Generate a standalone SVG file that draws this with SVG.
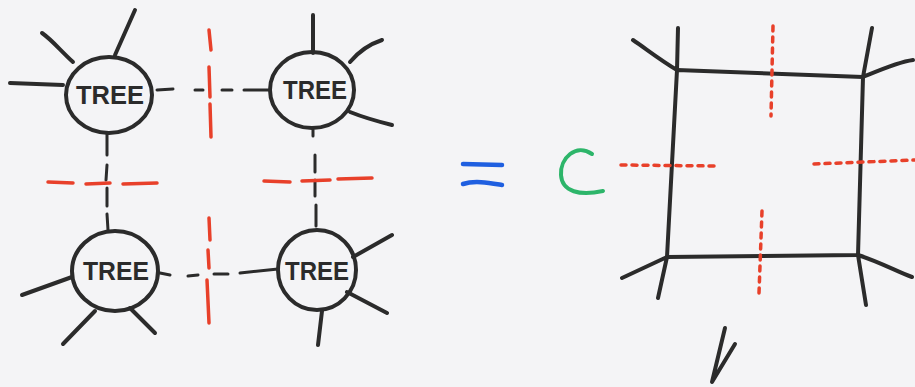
<svg xmlns="http://www.w3.org/2000/svg" width="915" height="387" viewBox="0 0 915 387">
<style>
.k{fill:none;stroke:#2b2b2b;stroke-width:4;stroke-linecap:round;stroke-linejoin:round}
.kd{fill:none;stroke:#2b2b2b;stroke-width:3;stroke-linecap:round}
.r{fill:none;stroke:#e8402a;stroke-width:3.5;stroke-linecap:round}
.rd{fill:none;stroke:#e8402a;stroke-width:3.5;stroke-linecap:round;stroke-dasharray:5 6}
.t{font-family:"Liberation Sans",Arial,sans-serif;font-weight:bold;font-size:25px;fill:#2b2b2b;text-anchor:middle}
</style>
<rect width="915" height="387" fill="#f4f4f6"/>
<g id="connectors">
<path class="kd" d="M157 90 L173 89 M195 90 L203 90 M222 90 L232 90 M244 90 L268 90"/>
<path class="kd" d="M160 273 L170 275 M188 276 L198 275 M214 274 L228 274 M240 273 L278 269"/>
<path class="kd" d="M107 133 L107 155 M107 165 L106 180 M107 188 L107 206 M107 214 L108 230"/>
<path class="kd" d="M313 130 L313 136 M315 155 L315 172 M315 180 L315 196 M316 205 L316 226"/>
<path class="r" d="M209 30 L211 50 M209 67 L210 97 M210 104 L211 137"/>
<path class="r" d="M209 218 L210 240 M208 250 L209 268 M207 280 L209 323"/>
<path class="r" d="M48 182 L73 183 M86 184 L110 183 M123 184 L157 183"/>
<path class="r" d="M264 181 L290 182 M302 181 L330 180 M338 179 L372 178"/>
<path d="M463 164 L502 165 M463 184 C475 180 490 183 502 185" fill="none" stroke="#1f5fe0" stroke-width="4.5" stroke-linecap="round"/>
<path d="M592 154 C576 143 560 158 561 175 C562 192 580 196 603 191" fill="none" stroke="#2db56a" stroke-width="4" stroke-linecap="round"/>
<path class="k" d="M677 70 L863 77 L858 255 L667 257 Z"/>
<path class="k" d="M677 70 L678 28 M677 70 C660 60 645 48 633 40 M667 257 L658 298 M667 257 L622 278 M863 77 L872 28 M863 77 C880 70 898 62 913 60 M858 255 L866 305 M858 255 C880 262 898 272 912 277"/>
<path class="rd" d="M773 26 L771 116"/>
<path class="rd" d="M621 165 L716 166"/>
<path class="rd" d="M814 164 L915 160"/>
<path class="rd" d="M762 211 L759 293"/>
<path class="k" d="M725 328 L712 382 L735 344" stroke-width="3.5"/>
</g>
<g id="tree-tl">
<ellipse class="k" cx="109" cy="95" rx="43" ry="38"/>
<path class="k" d="M115 55 L135 10 M73 62 C60 50 52 40 42 33 M10 83 L63 85"/>
<text class="t" x="110" y="104" textLength="68" lengthAdjust="spacingAndGlyphs">TREE</text>
</g>
<g id="tree-tr">
<ellipse class="k" cx="312" cy="90" rx="42" ry="38"/>
<path class="k" d="M313 15 L313 53 M350 62 C360 50 370 44 382 40 M350 112 C365 118 380 122 392 125"/>
<text class="t" x="315" y="99" textLength="64" lengthAdjust="spacingAndGlyphs">TREE</text>
</g>
<g id="tree-bl">
<ellipse class="k" cx="115" cy="271" rx="43" ry="40"/>
<path class="k" d="M72 277 L22 295 M95 311 L63 344 M130 308 L155 333"/>
<text class="t" x="116" y="280" textLength="66" lengthAdjust="spacingAndGlyphs">TREE</text>
</g>
<g id="tree-br">
<ellipse class="k" cx="317" cy="270" rx="39" ry="40"/>
<path class="k" d="M353 257 L392 235 M347 292 L387 313 M322 311 L318 345"/>
<text class="t" x="317" y="280" textLength="64" lengthAdjust="spacingAndGlyphs">TREE</text>
</g>
</svg>
